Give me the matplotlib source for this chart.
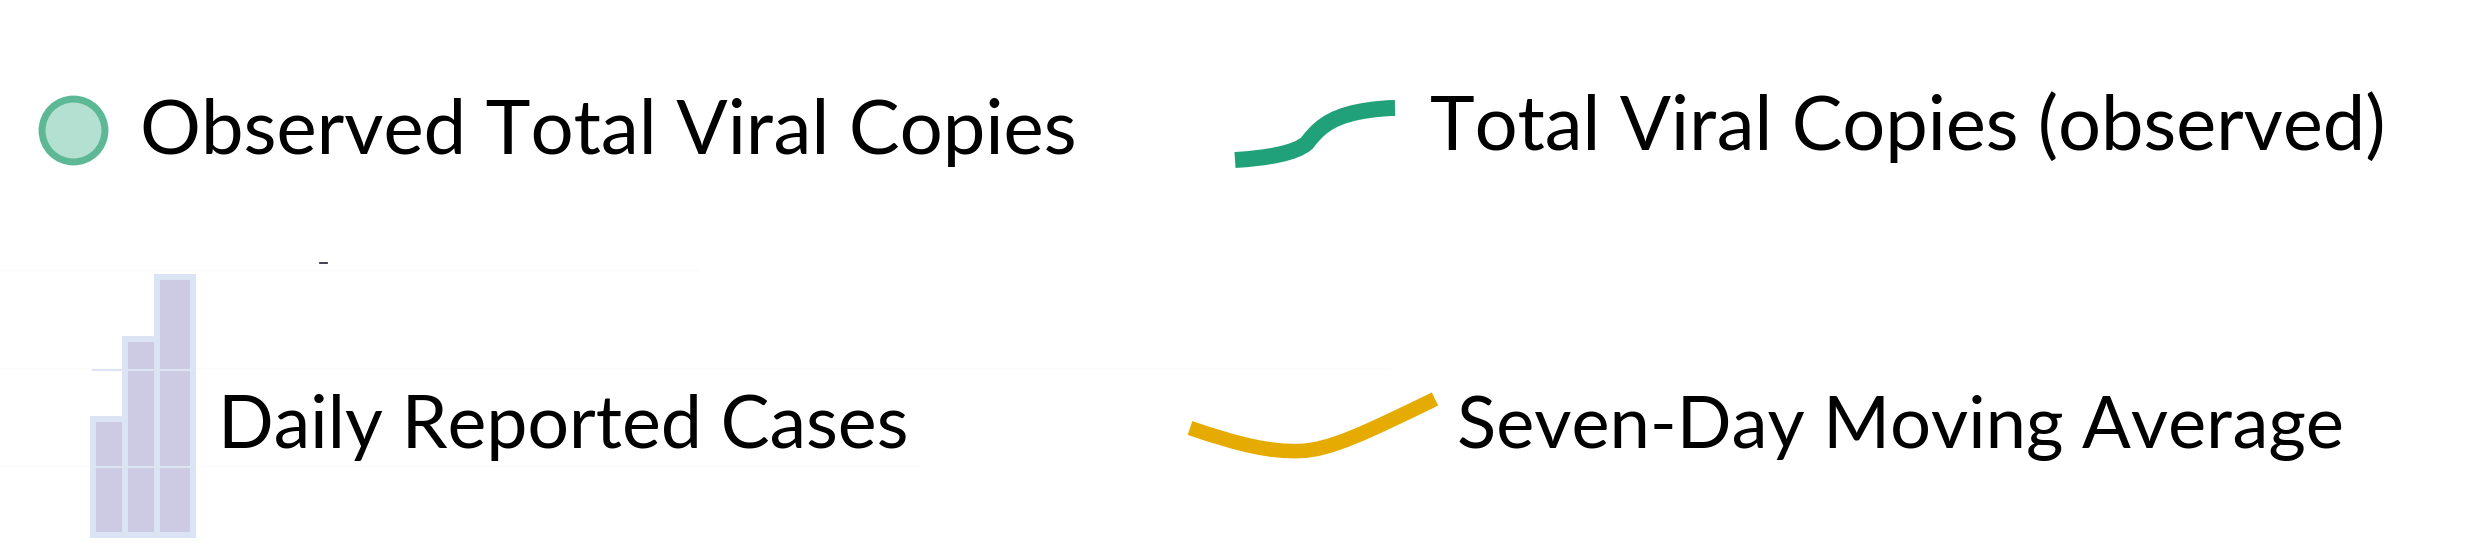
import matplotlib
matplotlib.use("Agg")
import matplotlib.pyplot as plt
from matplotlib.path import Path
from matplotlib.patches import PathPatch
import numpy as np

# ---- legend content ----
labels = ["Observed Total Viral Copies", "Total Viral Copies (observed)",
          "Daily Reported Cases", "Seven-Day Moving Average"]
label_colors = ["#000000"] * 4
# icon data
bar_icon_values = [0.45, 0.76, 1.0]
green_curve_pts = [(1235, 160), (1268, 158), (1296, 153), (1307, 143),
                   (1317, 130), (1328, 118), (1358, 112),
                   (1373, 109), (1387, 108), (1395, 108)]
yellow_curve_pts = [(1190, 428), (1240, 445), (1270, 452), (1300, 451),
                    (1330, 450), (1365, 433), (1435, 399)]

W, H = 2469, 560
fig = plt.figure(figsize=(W / 100, H / 100), dpi=100)
ax = fig.add_axes([0, 0, 1, 1])
ax.set_xlim(0, W)
ax.set_ylim(H, 0)
ax.axis("off")

# faint guide lines
for y, x0, x1 in [(270, 0, 700), (368, 0, 1390), (466, 0, 920)]:
    ax.plot([x0, x1], [y, y], color="#fbfbfb", lw=0.8, zorder=0)

# circle marker
ax.scatter([73], [130], s=2050, facecolor="#b3e0d0", edgecolor="#5db896",
           linewidth=5.0, zorder=3)


def bezier_patch(pts, color, lw):
    codes = [Path.MOVETO] + [Path.CURVE4] * (len(pts) - 1)
    p = PathPatch(Path(pts, codes), facecolor="none", edgecolor=color,
                  lw=lw, capstyle="butt", zorder=3)
    ax.add_patch(p)


bezier_patch(green_curve_pts, "#21a179", 11.5)
bezier_patch(yellow_curve_pts, "#e5ab00", 10.5)

# bars icon
bar_centers = [109, 141, 175]
bar_widths = [32, 32, 36]
full_h = 535 - 277
for xc, w, v in zip(bar_centers, bar_widths, bar_icon_values):
    ax.bar(xc, -v * full_h, bottom=535, width=w, color="#cdcbe3",
           edgecolor="#dbe4f5", linewidth=4.3, zorder=2)
for y in [370, 467]:
    ax.plot([93, 193], [y, y], color="#dde5f5", lw=1.5, zorder=2.5)

# tiny dash
ax.plot([320, 327], [263, 263], color="#333344", lw=1.3, zorder=3)

# texts (fit to measured widths)
text_pos = [(140, 154, 935), (1430, 150, 955), (218, 448, 691), (1457, 448, 886)]
family = ["Lato", "DejaVu Sans"]
fig.canvas.draw()
renderer = fig.canvas.get_renderer()
for lab, col, (x, y, wt) in zip(labels, label_colors, text_pos):
    t = ax.text(x, y, lab, ha="left", va="baseline", fontsize=50,
                family=family, color=col, zorder=4)
    bb = t.get_window_extent(renderer=renderer)
    t.set_fontsize(50 * wt / bb.width)

fig.savefig("out.png", dpi=100, facecolor="white")
